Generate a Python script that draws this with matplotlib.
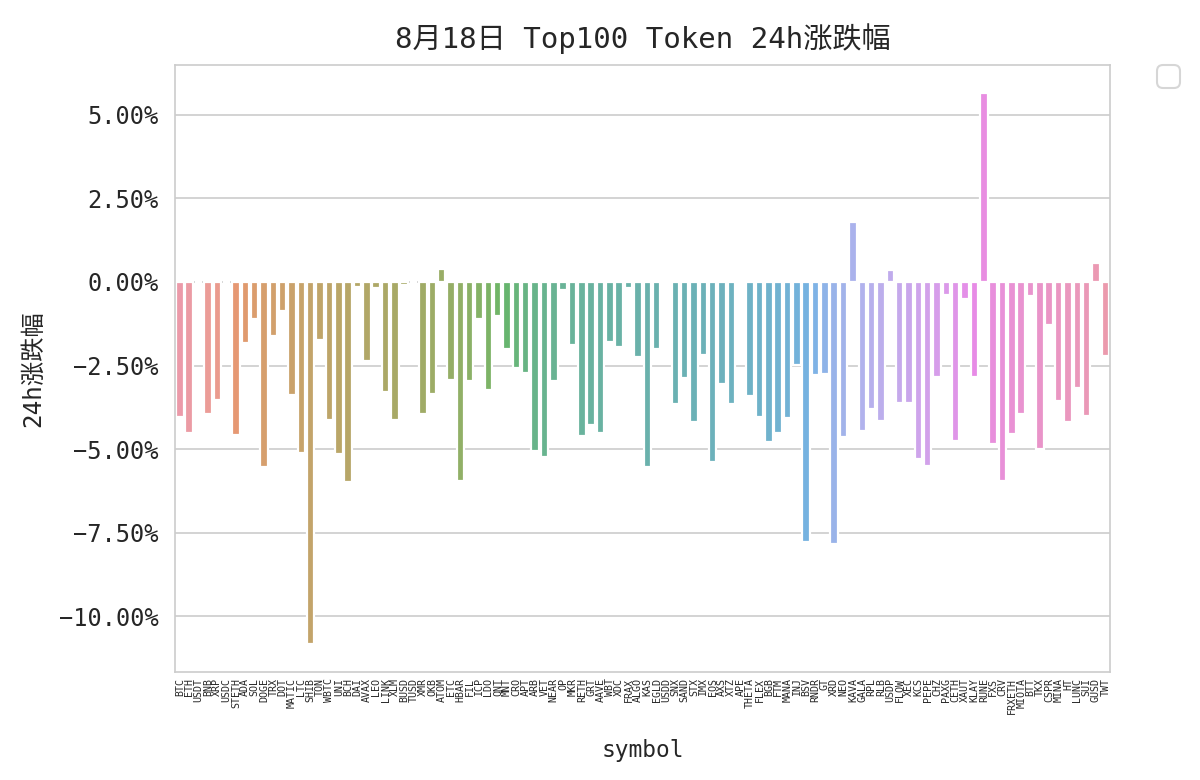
import matplotlib
matplotlib.use("Agg")
import matplotlib.pyplot as plt
from matplotlib.ticker import FuncFormatter, FixedLocator
import seaborn as sns

symbols = ["BTC", "ETH", "USDT", "BNB", "XRP", "USDC", "STETH", "ADA", "SOL", "DOGE",
           "TRX", "DOT", "MATIC", "LTC", "SHIB", "TON", "WBTC", "UNI", "BCH", "DAI",
           "AVAX", "LEO", "LINK", "XLM", "BUSD", "TUSD", "XMR", "OKB", "ATOM", "ETC",
           "HBAR", "FIL", "ICP", "LDO", "QNT", "MNT", "CRO", "APT", "ARB", "VET",
           "NEAR", "OP", "MKR", "RETH", "GRT", "AAVE", "WBT", "XDC", "FRAX", "ALGO",
           "KAS", "EGLD", "USDD", "SNX", "SAND", "STX", "IMX", "EOS", "AXS", "XTZ",
           "APE", "THETA", "FLEX", "BGB", "FTM", "MANA", "INJ", "BSV", "RNDR", "GT",
           "XRD", "NEO", "KAVA", "GALA", "RPL", "RLB", "USDP", "FLOW", "XEC", "KCS",
           "PEPE", "CHZ", "PAXG", "CETH", "XAUT", "KLAY", "RUNE", "FXS", "CRV", "FRXETH",
           "MIOTA", "BTT", "TKX", "CSPR", "MINA", "HT", "LUNC", "SUI", "GUSD", "TWT"]

change_pct = [-4.03, -4.53, -0.01, -3.95, -3.54, 0.00, -4.58, -1.83, -1.11, -5.53,
              -1.62, -0.88, -3.39, -5.11, -10.82, -1.74, -4.14, -5.15, -5.97, -0.14,
              -2.37, -0.19, -3.29, -4.14, -0.09, -0.01, -3.95, -3.36, 0.38, -2.94,
              -5.96, -2.96, -1.12, -3.24, -1.02, -2.01, -2.56, -2.73, -5.06, -5.23,
              -2.95, -0.25, -1.89, -4.60, -4.28, -4.53, -1.79, -1.96, -0.18, -2.25,
              -5.55, -2.01, -0.02, -3.66, -2.88, -4.20, -2.17, -5.38, -3.05, -3.64,
              -0.02, -3.41, -4.03, -4.78, -4.52, -4.08, -2.49, -7.78, -2.77, -2.75,
              -7.84, -4.64, 1.80, -4.47, -3.80, -4.16, 0.37, -3.61, -3.61, -5.31,
              -5.51, -2.83, -0.38, -4.77, -0.52, -2.83, 5.65, -4.84, -5.95, -4.55,
              -3.96, -0.43, -5.00, -1.30, -3.56, -4.20, -3.18, -4.01, 0.58, -2.21]

ytick_values = [-10.0, -7.5, -5.0, -2.5, 0.0, 2.5, 5.0]

title_text = "8月18日 Top100 Token 24h涨跌幅"
xlabel_text = "symbol"
ylabel_text = "24h涨跌幅"

sns.set_style("whitegrid")
fam = ["DejaVu Sans Mono", "Noto Sans CJK SC", "DejaVu Sans"]
plt.rcParams["font.family"] = fam
plt.rcParams["axes.unicode_minus"] = True

fig = plt.figure(figsize=(12, 7.8), dpi=100)
ax = fig.add_axes([0.146, 0.138, 0.779, 0.779])

base = [sns.desaturate(c, 0.75) for c in sns.husl_palette(len(symbols))]
colors = [tuple(0.8 * ch + 0.2 for ch in c) for c in base]
positions = list(range(len(symbols)))
ax.bar(positions, change_pct, width=0.8, color=colors, edgecolor="white", linewidth=1.6, zorder=2)

ax.set_xlim(-0.5, len(symbols) - 0.5)
ax.set_ylim(-11.68, 6.5)
ax.xaxis.set_major_locator(FixedLocator(positions))
ax.set_xticklabels(symbols, rotation=90, fontsize=7.2, family=["DejaVu Sans Mono"])
ax.yaxis.set_major_locator(FixedLocator(ytick_values))
ax.yaxis.set_major_formatter(FuncFormatter(lambda v, p: ("%.2f%%" % v).replace("-", "\u2212")))
ax.tick_params(axis="y", labelsize=17, pad=12, length=0)
ax.tick_params(axis="x", pad=4, length=0)
ax.grid(axis="x", visible=False)
ax.grid(axis="y", color="#cccccc", linewidth=1.2, zorder=0)
ax.set_axisbelow(True)
for s in ax.spines.values():
    s.set_color("#cccccc")
    s.set_linewidth(1.2)

ax.set_title(title_text, fontsize=21, pad=12)
ax.set_xlabel(xlabel_text, fontsize=16.5, labelpad=18)
ax.set_ylabel(ylabel_text, fontsize=17.5, labelpad=10)

leg = ax.legend(handles=[], bbox_to_anchor=(1.05, 1), loc="upper left",
                prop={"size": 21}, borderpad=0.4, borderaxespad=0.0)
leg.get_frame().set_edgecolor("#cccccc")
leg.get_frame().set_linewidth(1.5)

fig.savefig("out.png", dpi=100)
